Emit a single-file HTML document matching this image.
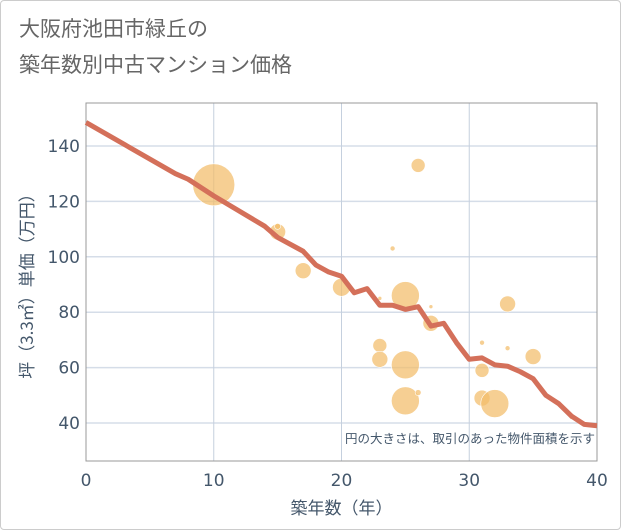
<!DOCTYPE html>
<html><head><meta charset="utf-8"><style>
body{margin:0;background:#fff;font-family:"DejaVu Sans","Noto Sans CJK JP",sans-serif}
#wrap{position:relative;width:619px;height:528px;border:1px solid #ccc;border-radius:4px;overflow:hidden}
.t{position:absolute;left:18px;font-size:21px;color:#666;font-family:"Noto Sans CJK JP",sans-serif}
</style></head><body>
<div id="wrap">
<div class="t" style="top:12px">大阪府池田市緑丘の</div>
<div class="t" style="top:48px">築年数別中古マンション価格</div>
<svg id="c" width="621" height="530" style="position:absolute;left:-1px;top:-1px"></svg>
</div>
<script>
const lineYears=[0,7,8,10,14,15,17,18,19,20,21,22,23,24,25,26,27,28,29,30,31,32,33,34,35,36,37,38,39,40];
const linePrices=[148.5,130,128,122,111,107,102,97,94.5,93,87,88.5,82.5,82.5,81,82,75,76,69,63,63.5,61,60.5,58.5,56,50,47,42.5,39.5,39];
const bubbleYears=[10,26,15,15,17,20,24,25,23,27,27,23,23,25,25,26,31,31,33,33,35,31,32,38];
const bubblePrices=[126,133,109,111,95,89,103,86,85,82,76,68,63,61,48,51,69,59,83,67,64,49,47,42];
const bubbleSizes=[21,7,8,3,8,9,2.5,14,2,2,8,7,8,14,14,3,2.5,7,8,2.5,8,8,14,2];
const xTicks=[0,10,20,30,40];
const yTicks=[40,60,80,100,120,140];
const L=86,R=597,T=103,B=461;
const X=v=>L+(v-0)*(R-L)/40;
const Y=v=>146+(140-v)*2.77;
const s=document.getElementById('c'),NS='http://www.w3.org/2000/svg';
function mk(t,a,p){const e=document.createElementNS(NS,t);for(const k in a)e.setAttribute(k,a[k]);(p||s).appendChild(e);return e;}
yTicks.forEach(v=>{
const g=mk('line',{x1:L,x2:R,y1:Y(v),y2:Y(v),stroke:'#d5dde8','stroke-width':1.5});


const t=mk('text',{x:L-6,y:Y(v)+6,'text-anchor':'end','font-size':17,fill:'#44576b'});t.textContent=v;


});
xTicks.forEach(v=>{
const g=mk('line',{x1:X(v),x2:X(v),y1:T,y2:B,stroke:'#c5d0de','stroke-width':1});


const t=mk('text',{x:X(v),y:B+25,'text-anchor':'middle','font-size':17,fill:'#44576b'});t.textContent=v;


});
const fr=mk('rect',{x:L,y:T,width:R-L,height:B-T,fill:'none',stroke:'#999','stroke-width':1});


bubbleYears.forEach((v,i)=>{
const c=mk('circle',{cx:X(v),cy:Y(bubblePrices[i]),r:bubbleSizes[i],fill:'#f3bd6a','fill-opacity':0.72,stroke:'#fff','stroke-width':0.6});


});
const p=mk('polyline',{points:lineYears.map((v,i)=>X(v)+','+Y(linePrices[i])).join(' '),fill:'none',stroke:'#d4705a','stroke-width':5,'stroke-linejoin':'round'});


const n=mk('text',{x:R-2,y:443,'text-anchor':'end','font-size':12.5,fill:'#44576b','font-family':'Noto Sans CJK JP, sans-serif'});n.textContent='円の大きさは、取引のあった物件面積を示す';


const xt=mk('text',{x:(L+R)/2,y:514,'text-anchor':'middle','font-size':17,fill:'#44576b','font-family':'Noto Sans CJK JP, sans-serif'});xt.textContent='築年数（年）';


const yt=mk('text',{x:0,y:0,'text-anchor':'middle','font-size':17,fill:'#44576b','font-family':'Noto Sans CJK JP, sans-serif',transform:'translate(33,'+((T+B)/2)+') rotate(-90)'});yt.textContent='坪（3.3㎡）単価（万円）';


</script>
</body></html>
